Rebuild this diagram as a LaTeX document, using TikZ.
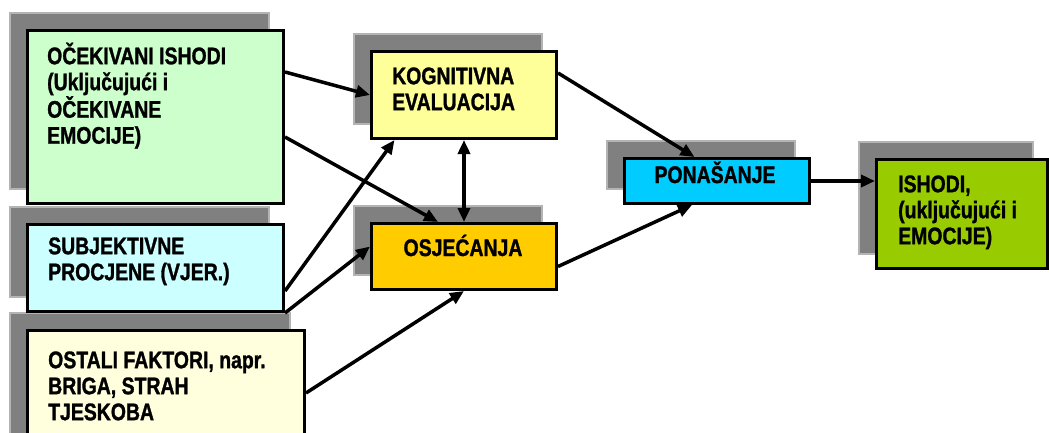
\documentclass[tikz,border=0pt]{standalone}
\usepackage{fontspec}
\newfontfamily\nar[FakeStretch=0.81, FakeBold=1.2, UprightFont={Liberation Sans Bold}, BoldFont={Liberation Sans Bold}]{Liberation Sans}
\usetikzlibrary{arrows.meta,backgrounds}
\definecolor{cGreen}{HTML}{CCFFCC}
\definecolor{cCyan}{HTML}{CCFFFF}
\definecolor{cCream}{HTML}{FFFFDD}
\definecolor{cYellow}{HTML}{FFFF99}
\definecolor{cGold}{HTML}{FFCC00}
\definecolor{cBlue}{HTML}{00CCFF}
\definecolor{cLime}{HTML}{99CC00}
\definecolor{cShadow}{HTML}{808080}
\definecolor{cShadowEdge}{HTML}{B4B4B4}
\begin{document}
\begin{tikzpicture}[x=1pt,y=-1pt,
  box/.style={draw=black, line width=3pt, anchor=north west, inner sep=0pt, rectangle},
  shadowbox/.style={fill=cShadow, draw=cShadowEdge, line width=1.2pt},
  txt/.style={anchor=north west, inner sep=0pt, align=left, font=\nar\fontsize{24}{26}\selectfont},
  ctxt/.style={anchor=base, inner sep=0pt, font=\nar\fontsize{24}{26}\selectfont},
  conn/.style={line width=3.5pt, -{Triangle[length=14pt,width=12pt]}},
  biconn/.style={line width=3.5pt, {Triangle[length=14pt,width=12pt]}-{Triangle[length=14pt,width=12pt]}},
]
\useasboundingbox (0,0) rectangle (1049,432);
% boxes
\node[box, fill=cGreen,  minimum width=256pt, minimum height=173pt] (b1) at (26,29) {};
\node[box, fill=cCyan,   minimum width=256pt, minimum height=87pt]  (b2) at (26,223) {};
\node[box, fill=cCream,  minimum width=277pt, minimum height=130pt] (b3) at (26,329) {};
\node[box, fill=cYellow, minimum width=185pt, minimum height=87pt]  (kog) at (370,50) {};
\node[box, fill=cGold,   minimum width=185pt, minimum height=66pt]  (osj) at (370,222) {};
\node[box, fill=cBlue,   minimum width=185pt, minimum height=45pt]  (pon) at (623,157) {};
\node[box, fill=cLime,   minimum width=171pt, minimum height=109pt] (ish) at (875,158) {};
% shadows
\begin{pgfonlayer}{background}
  \fill[white] (0,0) rectangle (1049,432);
  \foreach \n in {b1,b2,b3,kog,osj,pon,ish}{
    \path[shadowbox] ([shift={(-16,-16)}]\n.south west) rectangle ([shift={(-16,-16)}]\n.north east);
  }
\end{pgfonlayer}
% texts
\node[txt] (t1) at (47,39) {\rule{0pt}{25pt}OČEKIVANI ISHODI\\(Uključujući i\\OČEKIVANE\\EMOCIJE)};
\node[txt] (t2) at (48,229) {\rule{0pt}{25pt}SUBJEKTIVNE\\PROCJENE (VJER.)};
\node[txt] (t3) at (48,343) {\rule{0pt}{25pt}OSTALI FAKTORI, napr.\\BRIGA, STRAH\\TJESKOBA};
\node[txt] (t4) at (392,59) {\rule{0pt}{25pt}KOGNITIVNA\\EVALUACIJA};
\node[ctxt] (t5) at (463,256) {OSJEĆANJA};
\node[ctxt] (t6) at (715,183) {PONAŠANJE};
\node[txt] (t7) at (898,167) {\rule{0pt}{25pt}ISHODI,\\(uključujući i\\EMOCIJE)};
% connectors
\draw[conn] ([yshift=-43pt]b1.north east) -- (kog.west);
\draw[conn] ([yshift=-108pt]b1.north east) -- ([xshift=-26pt]osj.north);
\draw[conn] ([yshift=22pt]b2.south east) -- ([xshift=-69.5pt]kog.south);
\draw[conn] (b2.south east) -- ([yshift=10pt]osj.west);
\draw[conn] ([yshift=-64pt]b3.north east) -- (osj.south);
\draw[biconn] (kog.south) -- (osj.north);
\draw[conn] ([yshift=-23pt]kog.north east) -- ([xshift=-22.5pt]pon.north);
\draw[conn] ([yshift=-10pt]osj.east) -- ([xshift=-25pt]pon.south);
\draw[conn] (pon.east) -- (pon.east -| ish.west);
\end{tikzpicture}
\end{document}
